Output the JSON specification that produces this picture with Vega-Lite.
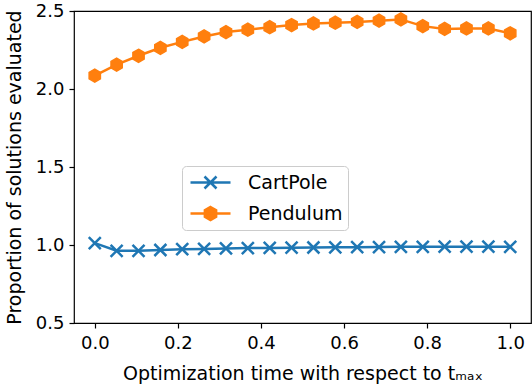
{
  "$schema": "https://vega.github.io/schema/vega-lite/v6.json",
  "width": 457,
  "height": 312,
  "autosize": "none",
  "padding": {"left": 74, "top": 11, "right": 1, "bottom": 61},
  "background": "white",
  "config": {
    "font": "DejaVu Sans",
    "view": {"stroke": "black", "strokeWidth": 1.2},
    "axis": {
      "grid": false,
      "domain": false,
      "tickColor": "black",
      "tickSize": 5,
      "tickWidth": 1.2,
      "labelColor": "black",
      "titleColor": "black",
      "labelFont": "DejaVu Sans",
      "titleFont": "DejaVu Sans",
      "labelFontSize": 18,
      "titleFontSize": 19,
      "titleFontWeight": "normal"
    }
  },
  "data": {
    "values": [
      {"x": 0.0, "value": 1.012, "series": "CartPole"},
      {"x": 0.0526, "value": 0.963, "series": "CartPole"},
      {"x": 0.1053, "value": 0.963, "series": "CartPole"},
      {"x": 0.1579, "value": 0.968, "series": "CartPole"},
      {"x": 0.2105, "value": 0.973, "series": "CartPole"},
      {"x": 0.2632, "value": 0.975, "series": "CartPole"},
      {"x": 0.3158, "value": 0.978, "series": "CartPole"},
      {"x": 0.3684, "value": 0.98, "series": "CartPole"},
      {"x": 0.4211, "value": 0.981, "series": "CartPole"},
      {"x": 0.4737, "value": 0.983, "series": "CartPole"},
      {"x": 0.5263, "value": 0.984, "series": "CartPole"},
      {"x": 0.5789, "value": 0.985, "series": "CartPole"},
      {"x": 0.6316, "value": 0.986, "series": "CartPole"},
      {"x": 0.6842, "value": 0.987, "series": "CartPole"},
      {"x": 0.7368, "value": 0.988, "series": "CartPole"},
      {"x": 0.7895, "value": 0.988, "series": "CartPole"},
      {"x": 0.8421, "value": 0.989, "series": "CartPole"},
      {"x": 0.8947, "value": 0.989, "series": "CartPole"},
      {"x": 0.9474, "value": 0.989, "series": "CartPole"},
      {"x": 1.0, "value": 0.988, "series": "CartPole"},
      {"x": 0.0, "value": 2.086, "series": "Pendulum"},
      {"x": 0.0526, "value": 2.156, "series": "Pendulum"},
      {"x": 0.1053, "value": 2.213, "series": "Pendulum"},
      {"x": 0.1579, "value": 2.264, "series": "Pendulum"},
      {"x": 0.2105, "value": 2.302, "series": "Pendulum"},
      {"x": 0.2632, "value": 2.337, "series": "Pendulum"},
      {"x": 0.3158, "value": 2.365, "series": "Pendulum"},
      {"x": 0.3684, "value": 2.38, "series": "Pendulum"},
      {"x": 0.4211, "value": 2.396, "series": "Pendulum"},
      {"x": 0.4737, "value": 2.41, "series": "Pendulum"},
      {"x": 0.5263, "value": 2.42, "series": "Pendulum"},
      {"x": 0.5789, "value": 2.425, "series": "Pendulum"},
      {"x": 0.6316, "value": 2.43, "series": "Pendulum"},
      {"x": 0.6842, "value": 2.438, "series": "Pendulum"},
      {"x": 0.7368, "value": 2.446, "series": "Pendulum"},
      {"x": 0.7895, "value": 2.403, "series": "Pendulum"},
      {"x": 0.8421, "value": 2.385, "series": "Pendulum"},
      {"x": 0.8947, "value": 2.388, "series": "Pendulum"},
      {"x": 0.9474, "value": 2.388, "series": "Pendulum"},
      {"x": 1.0, "value": 2.357, "series": "Pendulum"}
    ]
  },
  "encoding": {
    "x": {
      "field": "x",
      "type": "quantitative",
      "scale": {"domain": [-0.05, 1.05], "nice": false, "zero": false},
      "axis": {
        "values": [0, 0.2, 0.4, 0.6, 0.8, 1.0],
        "format": ".1f",
        "labelPadding": 6,
        "title": "Optimization time with respect to tₘₐₓ",
        "titlePadding": 12
      }
    },
    "y": {
      "field": "value",
      "type": "quantitative",
      "scale": {"domain": [0.5, 2.5], "nice": false, "zero": false},
      "axis": {
        "values": [0.5, 1.0, 1.5, 2.0, 2.5],
        "format": ".1f",
        "labelPadding": 5,
        "title": "Proportion of solutions evaluated",
        "titlePadding": 11
      }
    },
    "color": {
      "field": "series",
      "type": "nominal",
      "scale": {"domain": ["CartPole", "Pendulum"], "range": ["#1f77b4", "#ff7f0e"]},
      "legend": {
        "title": null,
        "orient": "none",
        "legendX": 108,
        "legendY": 155,
        "direction": "vertical",
        "labelFontSize": 19,
        "labelFont": "DejaVu Sans",
        "labelColor": "black",
        "symbolOffset": 12,
        "labelOffset": 26,
        "rowPadding": 8,
        "padding": 5,
        "strokeColor": "#cccccc",
        "fillColor": "white",
        "cornerRadius": 4,
        "symbolSize": 400,
        "symbolStrokeWidth": 2.5,
        "encode": {
          "symbols": {
            "update": {
              "shape": {"signal": "datum.value === 'CartPole' ? 'M-2,0H2M-0.6,-0.6L0.6,0.6M-0.6,0.6L0.6,-0.6' : 'M-2,0H2M0,-0.65L0.563,-0.325L0.563,0.325L0,0.65L-0.563,0.325L-0.563,-0.325Z'"},
              "fill": {"signal": "datum.value === 'CartPole' ? 'transparent' : '#ff7f0e'"},
              "stroke": {"signal": "datum.value === 'CartPole' ? '#1f77b4' : '#ff7f0e'"},
              "strokeWidth": {"value": 2.5},
              "opacity": {"value": 1}
            }
          }
        }
      }
    }
  },
  "layer": [
    {
      "mark": {"type": "line", "strokeWidth": 2.5},
      "encoding": {"detail": {"field": "series"}}
    },
    {
      "transform": [{"filter": "datum.series === 'CartPole'"}],
      "mark": {
        "type": "point",
        "shape": "M-1,-1L1,1M-1,1L1,-1",
        "size": 144,
        "filled": false,
        "strokeWidth": 2.5,
        "opacity": 1
      }
    },
    {
      "transform": [{"filter": "datum.series === 'Pendulum'"}],
      "mark": {
        "type": "point",
        "shape": "M0,-1L0.866,-0.5L0.866,0.5L0,1L-0.866,0.5L-0.866,-0.5Z",
        "size": 169,
        "filled": true,
        "strokeWidth": 1.5,
        "opacity": 1
      },
      "encoding": {"stroke": {"value": "#ff7f0e"}}
    }
  ]
}
